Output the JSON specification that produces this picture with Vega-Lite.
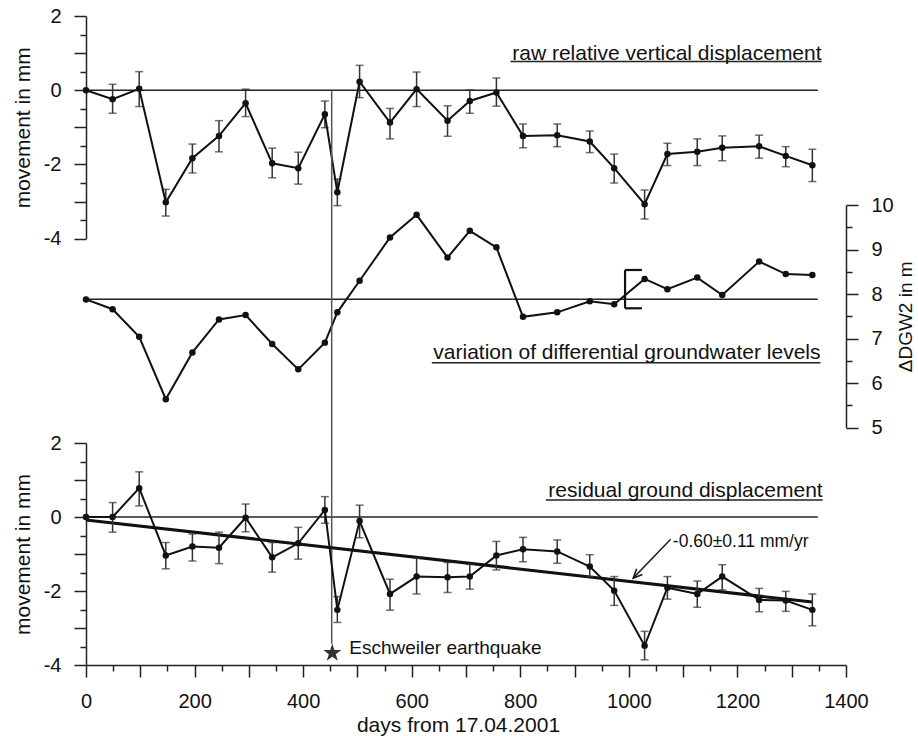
{
  "$schema": "https://vega.github.io/schema/vega-lite/v6.json",
  "width": 760,
  "height": 649,
  "autosize": {"type": "none"},
  "padding": {"left": 86, "top": 16, "right": 72, "bottom": 71},
  "background": "white",
  "config": {
    "view": {"stroke": null},
    "font": "Liberation Sans",
    "axis": {
      "grid": false,
      "domainColor": "#222",
      "domainWidth": 1.5,
      "tickColor": "#222",
      "tickWidth": 1.5,
      "labelColor": "#111",
      "labelFont": "Liberation Sans",
      "labelFontSize": 20,
      "titleFont": "Liberation Sans",
      "titleFontSize": 21,
      "titleFontWeight": "normal",
      "titleColor": "#111",
      "labelFlush": false,
      "labelOverlap": false
    }
  },
  "datasets": {
    "pts": [
      {"day": 0, "raw": 0, "rawLo": null, "rawHi": null, "dgw": 7.88, "res": 0, "resLo": null, "resHi": null},
      {"day": 49, "raw": -0.24, "rawLo": -0.62, "rawHi": 0.16, "dgw": 7.66, "res": 0.0, "resLo": -0.41, "resHi": 0.39},
      {"day": 98, "raw": 0.04, "rawLo": -0.44, "rawHi": 0.5, "dgw": 7.04, "res": 0.78, "resLo": 0.3, "resHi": 1.22},
      {"day": 147, "raw": -3.02, "rawLo": -3.39, "rawHi": -2.67, "dgw": 5.64, "res": -1.04, "resLo": -1.4, "resHi": -0.69},
      {"day": 196, "raw": -1.83, "rawLo": -2.23, "rawHi": -1.45, "dgw": 6.69, "res": -0.8, "resLo": -1.19, "resHi": -0.46},
      {"day": 245, "raw": -1.23, "rawLo": -1.66, "rawHi": -0.82, "dgw": 7.43, "res": -0.83, "resLo": -1.26, "resHi": -0.41},
      {"day": 294, "raw": -0.35, "rawLo": -0.71, "rawHi": 0.03, "dgw": 7.53, "res": -0.02, "resLo": -0.4, "resHi": 0.35},
      {"day": 343, "raw": -1.97, "rawLo": -2.36, "rawHi": -1.56, "dgw": 6.88, "res": -1.09, "resLo": -1.49, "resHi": -0.69},
      {"day": 391, "raw": -2.1, "rawLo": -2.53, "rawHi": -1.67, "dgw": 6.31, "res": -0.71, "resLo": -1.14, "resHi": -0.28},
      {"day": 440, "raw": -0.65, "rawLo": -1.01, "rawHi": -0.29, "dgw": 6.91, "res": 0.19, "resLo": -0.17, "resHi": 0.55},
      {"day": 463, "raw": -2.75, "rawLo": -3.11, "rawHi": -2.39, "dgw": 7.59, "res": -2.51, "resLo": -2.85, "resHi": -2.15},
      {"day": 504, "raw": 0.23, "rawLo": -0.2, "rawHi": 0.67, "dgw": 8.3, "res": -0.11, "resLo": -0.56, "resHi": 0.32},
      {"day": 560, "raw": -0.87, "rawLo": -1.31, "rawHi": -0.49, "dgw": 9.27, "res": -2.08, "resLo": -2.52, "resHi": -1.68},
      {"day": 609, "raw": 0.03, "rawLo": -0.44, "rawHi": 0.49, "dgw": 9.78, "res": -1.61, "resLo": -2.08, "resHi": -1.11},
      {"day": 666, "raw": -0.82, "rawLo": -1.24, "rawHi": -0.42, "dgw": 8.82, "res": -1.63, "resLo": -2.04, "resHi": -1.23},
      {"day": 707, "raw": -0.29, "rawLo": -0.62, "rawHi": 0.01, "dgw": 9.42, "res": -1.61, "resLo": -1.95, "resHi": -1.28},
      {"day": 756, "raw": -0.06, "rawLo": -0.43, "rawHi": 0.33, "dgw": 9.05, "res": -1.04, "resLo": -1.43, "resHi": -0.66},
      {"day": 805, "raw": -1.23, "rawLo": -1.55, "rawHi": -0.91, "dgw": 7.49, "res": -0.87, "resLo": -1.21, "resHi": -0.55},
      {"day": 868, "raw": -1.21, "rawLo": -1.52, "rawHi": -0.91, "dgw": 7.59, "res": -0.93, "resLo": -1.25, "resHi": -0.62},
      {"day": 928, "raw": -1.38, "rawLo": -1.68, "rawHi": -1.1, "dgw": 7.84, "res": -1.34, "resLo": -1.61, "resHi": -1.02},
      {"day": 973, "raw": -2.1, "rawLo": -2.5, "rawHi": -1.72, "dgw": 7.77, "res": -1.99, "resLo": -2.39, "resHi": -1.61},
      {"day": 1029, "raw": -3.07, "rawLo": -3.47, "rawHi": -2.69, "dgw": 8.34, "res": -3.48, "resLo": -3.86, "resHi": -3.09},
      {"day": 1071, "raw": -1.72, "rawLo": -2.03, "rawHi": -1.43, "dgw": 8.11, "res": -1.91, "resLo": -2.22, "resHi": -1.61},
      {"day": 1126, "raw": -1.66, "rawLo": -2.03, "rawHi": -1.31, "dgw": 8.37, "res": -2.08, "resLo": -2.44, "resHi": -1.73},
      {"day": 1172, "raw": -1.55, "rawLo": -1.9, "rawHi": -1.23, "dgw": 7.98, "res": -1.61, "resLo": -1.97, "resHi": -1.29},
      {"day": 1240, "raw": -1.51, "rawLo": -1.83, "rawHi": -1.21, "dgw": 8.73, "res": -2.24, "resLo": -2.56, "resHi": -1.93},
      {"day": 1289, "raw": -1.77, "rawLo": -2.06, "rawHi": -1.52, "dgw": 8.45, "res": -2.26, "resLo": -2.55, "resHi": -2.01},
      {"day": 1338, "raw": -2.02, "rawLo": -2.46, "rawHi": -1.59, "dgw": 8.43, "res": -2.51, "resLo": -2.94, "resHi": -2.08}
    ]
  },
  "encoding": {
    "x": {
      "field": "day",
      "type": "quantitative",
      "scale": {"domain": [0, 1400], "nice": false, "zero": false},
      "axis": null
    }
  },
  "layer": [
    {
      "data": {"values": [
        {"day": 0, "day2": 1348, "v": 0, "v2": 0},
        {"day": 782, "day2": 1355, "v": 0.774, "v2": 0.774}
      ]},
      "mark": {"type": "rule", "color": "#222", "strokeWidth": 1.5},
      "encoding": {
        "x2": {"field": "day2"},
        "y": {
          "field": "v",
          "type": "quantitative",
          "scale": {"domain": [-4, 2], "range": [222.7, 0], "nice": false, "zero": false},
          "axis": {
            "orient": "left",
            "title": "movement in mm",
            "values": [-4, -3, -2, -1, 0, 1, 2],
            "labelExpr": "datum.value % 2 === 0 ? '' + datum.value : ''",
            "tickSize": 12,
            "labelPadding": 13,
            "titlePadding": 10
          }
        },
        "y2": {"field": "v2"}
      }
    },
    {
      "data": {"name": "pts"},
      "mark": {"type": "errorbar", "ticks": {"size": 8, "thickness": 1.5, "color": "#333"}, "rule": {"strokeWidth": 1.5, "color": "#333"}},
      "encoding": {
        "y": {"field": "rawLo", "type": "quantitative", "axis": null, "scale": {"domain": [-4, 2], "range": [222.7, 0], "nice": false, "zero": false}},
        "y2": {"field": "rawHi"}
      }
    },
    {
      "data": {"name": "pts"},
      "mark": {"type": "line", "color": "#111", "strokeWidth": 2, "point": {"filled": true, "size": 42, "color": "#111"}},
      "encoding": {
        "y": {
          "field": "raw", "type": "quantitative",
          "scale": {"domain": [-4, 2], "range": [222.7, 0], "nice": false, "zero": false},
          "axis": {"orient": "left", "title": null, "values": [-3.5, -2.5, -1.5, -0.5, 0.5, 1.5], "tickSize": 6, "labels": false, "domain": false}
        }
      }
    },
    {
      "data": {"values": [{"day": 1355, "v": 0.81, "label": "raw relative vertical displacement"}]},
      "mark": {"type": "text", "align": "right", "baseline": "alphabetic", "fontSize": 21, "color": "#111", "font": "Liberation Sans"},
      "encoding": {
        "y": {"field": "v", "type": "quantitative", "axis": null, "scale": {"domain": [-4, 2], "range": [222.7, 0], "nice": false, "zero": false}},
        "text": {"field": "label"}
      }
    },
    {
      "data": {"values": [
        {"day": 0, "day2": 1348, "v": 7.883, "v2": 7.883},
        {"day": 637, "day2": 1353, "v": 6.46, "v2": 6.46}
      ]},
      "mark": {"type": "rule", "color": "#222", "strokeWidth": 1.5},
      "encoding": {
        "x2": {"field": "day2"},
        "y": {
          "field": "v",
          "type": "quantitative",
          "scale": {"domain": [5, 10], "range": [411.7, 189], "nice": false, "zero": false},
          "axis": {
            "orient": "right",
            "title": "ΔDGW2 in m",
            "titleAngle": 270,
            "titleBaseline": "top",
            "titleFontSize": 19,
            "values": [5, 6, 7, 8, 9, 10],
            "labelExpr": "'' + datum.value",
            "tickSize": 12,
            "labelPadding": 13,
            "titlePadding": 3
          }
        },
        "y2": {"field": "v2"}
      }
    },
    {
      "data": {"values": [
        {"day": 993, "day2": 1024, "v": 8.541, "v2": 8.541},
        {"day": 993, "day2": 993, "v": 8.541, "v2": 7.681},
        {"day": 993, "day2": 1024, "v": 7.681, "v2": 7.681}
      ]},
      "mark": {"type": "rule", "color": "#111", "strokeWidth": 2.2},
      "encoding": {
        "x2": {"field": "day2"},
        "y": {"field": "v", "type": "quantitative", "axis": null, "scale": {"domain": [5, 10], "range": [411.7, 189], "nice": false, "zero": false}},
        "y2": {"field": "v2"}
      }
    },
    {
      "data": {"name": "pts"},
      "mark": {"type": "line", "color": "#111", "strokeWidth": 2, "point": {"filled": true, "size": 42, "color": "#111"}},
      "encoding": {
        "y": {
          "field": "dgw", "type": "quantitative",
          "scale": {"domain": [5, 10], "range": [411.7, 189], "nice": false, "zero": false},
          "axis": {"orient": "right", "title": null, "values": [5.5, 6.5, 7.5, 8.5, 9.5], "tickSize": 6, "labels": false, "domain": false}
        }
      }
    },
    {
      "data": {"values": [{"day": 1353, "v": 6.533, "label": "variation of differential groundwater levels"}]},
      "mark": {"type": "text", "align": "right", "baseline": "alphabetic", "fontSize": 21, "color": "#111", "font": "Liberation Sans"},
      "encoding": {
        "y": {"field": "v", "type": "quantitative", "axis": null, "scale": {"domain": [5, 10], "range": [411.7, 189], "nice": false, "zero": false}},
        "text": {"field": "label"}
      }
    },
    {
      "data": {"values": [
        {"day": 0, "day2": 1348, "v": 0, "v2": 0},
        {"day": 847, "day2": 1357, "v": 0.462, "v2": 0.462},
        {"day": 1077, "day2": 1008, "v": -0.6, "v2": -1.652}
      ]},
      "mark": {"type": "rule", "color": "#222", "strokeWidth": 1.5},
      "encoding": {
        "x": {
          "field": "day",
          "type": "quantitative",
          "scale": {"domain": [0, 1400], "nice": false, "zero": false},
          "axis": {
            "orient": "bottom",
            "title": "days from 17.04.2001",
            "values": [0, 100, 200, 300, 400, 500, 600, 700, 800, 900, 1000, 1100, 1200, 1300, 1400],
            "labelExpr": "datum.value % 200 === 0 ? '' + datum.value : ''",
            "tickSize": 12,
            "labelPadding": 14,
            "titlePadding": 3,
            "titleX": 372
          }
        },
        "x2": {"field": "day2"},
        "y": {
          "field": "v",
          "type": "quantitative",
          "scale": {"domain": [-4, 2], "range": [649, 427], "nice": false, "zero": false},
          "axis": {
            "orient": "left",
            "title": "movement in mm",
            "values": [-4, -3, -2, -1, 0, 1, 2],
            "labelExpr": "datum.value % 2 === 0 ? '' + datum.value : ''",
            "tickSize": 12,
            "labelPadding": 13,
            "titlePadding": 10
          }
        },
        "y2": {"field": "v2"}
      }
    },
    {
      "data": {"values": [{"day": 452.6, "day2": 452.6, "v": 11.509, "v2": -3.425}]},
      "mark": {"type": "rule", "color": "#555", "strokeWidth": 1.5},
      "encoding": {
        "x2": {"field": "day2"},
        "y": {"field": "v", "type": "quantitative", "axis": null, "scale": {"domain": [-4, 2], "range": [649, 427], "nice": false, "zero": false}},
        "y2": {"field": "v2"}
      }
    },
    {
      "data": {"values": [{"day": 0, "day2": 1338, "v": -0.078, "v2": -2.3}]},
      "mark": {"type": "rule", "color": "#111", "strokeWidth": 3},
      "encoding": {
        "x2": {"field": "day2"},
        "y": {"field": "v", "type": "quantitative", "axis": null, "scale": {"domain": [-4, 2], "range": [649, 427], "nice": false, "zero": false}},
        "y2": {"field": "v2"}
      }
    },
    {
      "data": {"name": "pts"},
      "mark": {"type": "errorbar", "ticks": {"size": 8, "thickness": 1.5, "color": "#333"}, "rule": {"strokeWidth": 1.5, "color": "#333"}},
      "encoding": {
        "y": {"field": "resLo", "type": "quantitative", "axis": null, "scale": {"domain": [-4, 2], "range": [649, 427], "nice": false, "zero": false}},
        "y2": {"field": "resHi"}
      }
    },
    {
      "data": {"name": "pts"},
      "mark": {"type": "line", "color": "#111", "strokeWidth": 2, "point": {"filled": true, "size": 42, "color": "#111"}},
      "encoding": {
        "x": {
          "field": "day",
          "type": "quantitative",
          "scale": {"domain": [0, 1400], "nice": false, "zero": false},
          "axis": {
            "orient": "bottom",
            "title": null,
            "values": [50, 150, 250, 350, 450, 550, 650, 750, 850, 950, 1050, 1150, 1250, 1350],
            "tickSize": 6,
            "labels": false,
            "domain": false
          }
        },
        "y": {
          "field": "res", "type": "quantitative",
          "scale": {"domain": [-4, 2], "range": [649, 427], "nice": false, "zero": false},
          "axis": {"orient": "left", "title": null, "values": [-3.5, -2.5, -1.5, -0.5, 0.5, 1.5], "tickSize": 6, "labels": false, "domain": false}
        }
      }
    },
    {
      "data": {"values": [{"day": 1008, "v": -1.652}]},
      "mark": {"type": "point", "shape": "M-0.45,1L0,0L0.45,1", "size": 324, "angle": 224.6, "filled": false, "color": "#111", "strokeWidth": 1.5, "opacity": 1},
      "encoding": {
        "y": {"field": "v", "type": "quantitative", "axis": null, "scale": {"domain": [-4, 2], "range": [649, 427], "nice": false, "zero": false}}
      }
    },
    {
      "data": {"values": [{"day": 453.7, "v": -3.676}]},
      "mark": {"type": "point", "shape": "M0,-1L0.2245,-0.309L0.951,-0.309L0.363,0.118L0.588,0.809L0,0.382L-0.588,0.809L-0.363,0.118L-0.951,-0.309L-0.2245,-0.309Z", "size": 361, "filled": true, "color": "#333", "opacity": 1},
      "encoding": {
        "y": {"field": "v", "type": "quantitative", "axis": null, "scale": {"domain": [-4, 2], "range": [649, 427], "nice": false, "zero": false}}
      }
    },
    {
      "data": {"values": [{"day": 1357, "v": 0.551, "label": "residual ground displacement"}]},
      "mark": {"type": "text", "align": "right", "baseline": "alphabetic", "fontSize": 21, "color": "#111", "font": "Liberation Sans"},
      "encoding": {
        "y": {"field": "v", "type": "quantitative", "axis": null, "scale": {"domain": [-4, 2], "range": [649, 427], "nice": false, "zero": false}},
        "text": {"field": "label"}
      }
    },
    {
      "data": {"values": [{"day": 1081, "v": -0.8, "label": "-0.60±0.11 mm/yr"}]},
      "mark": {"type": "text", "align": "left", "baseline": "alphabetic", "fontSize": 17.5, "color": "#111", "font": "Liberation Sans"},
      "encoding": {
        "y": {"field": "v", "type": "quantitative", "axis": null, "scale": {"domain": [-4, 2], "range": [649, 427], "nice": false, "zero": false}},
        "text": {"field": "label"}
      }
    },
    {
      "data": {"values": [{"day": 485, "v": -3.708, "label": "Eschweiler earthquake"}]},
      "mark": {"type": "text", "align": "left", "baseline": "alphabetic", "fontSize": 19, "color": "#111", "font": "Liberation Sans"},
      "encoding": {
        "y": {"field": "v", "type": "quantitative", "axis": null, "scale": {"domain": [-4, 2], "range": [649, 427], "nice": false, "zero": false}},
        "text": {"field": "label"}
      }
    }
  ],
  "resolve": {"scale": {"y": "independent"}, "axis": {"x": "independent", "y": "independent"}}
}
